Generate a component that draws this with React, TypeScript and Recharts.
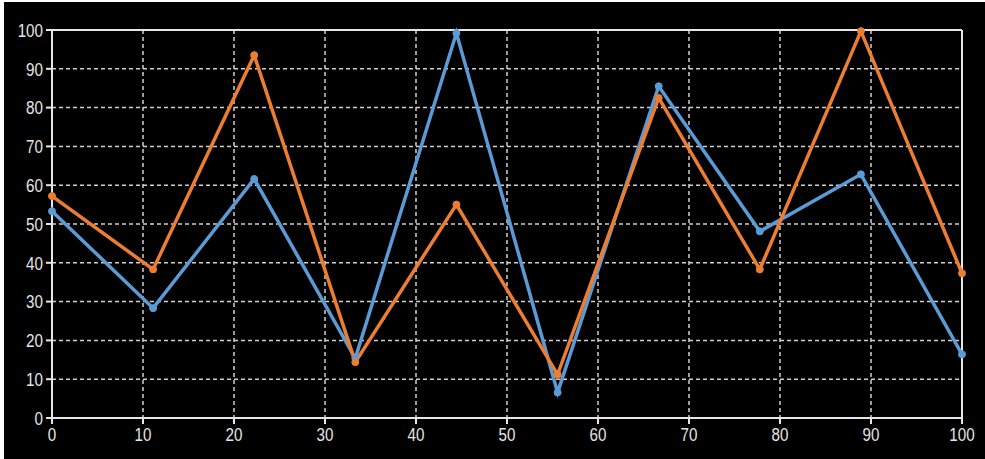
import { LineChart, Line, XAxis, YAxis, CartesianGrid, ReferenceLine } from "recharts"

// x positions: ten evenly spaced samples over 0..100
const xValues = [0, 11.11, 22.22, 33.33, 44.44, 55.56, 66.67, 77.78, 88.89, 100]
const blueValues = [53.3, 28.3, 61.6, 15.4, 99.2, 6.6, 85.5, 48.1, 62.8, 16.4]
const orangeValues = [57.2, 38.3, 93.5, 14.4, 55, 11.2, 82.5, 38.3, 99.7, 37.3]
const tickValues = [0, 10, 20, 30, 40, 50, 60, 70, 80, 90, 100]

const data = xValues.map((x, i) => ({ x, blue: blueValues[i], orange: orangeValues[i] }))

const axisColor = "#e6e6e6"

// narrow-looking labels: Liberation Sans squeezed horizontally
const NarrowTick = (props: any) => {
  const { x, y, payload, textAnchor, verticalAnchor } = props
  const dy = verticalAnchor === "start" ? "0.85em" : "0.36em"
  return (
    <g transform={`translate(${x},${y})`}>
      <text
        transform="scale(0.8,1)"
        textAnchor={textAnchor}
        dy={dy}
        fill="#e6e6e6"
        fontSize={19}
        fontFamily="'Liberation Sans', Arial, sans-serif"
      >
        {payload.value}
      </text>
    </g>
  )
}

export default function App() {
  return (
    <div style={{ position: "absolute", left: 0, top: 0, width: 985, height: 459, background: "#fff" }}>
      <div style={{ position: "absolute", left: 4, top: 2, width: 981, height: 457, background: "#000" }}>
        <LineChart width={981} height={457} data={data} margin={{ top: 28, right: 23, left: 0, bottom: 0 }}>
          <CartesianGrid stroke="#d0d0d0" strokeDasharray="4 3" strokeWidth={1.5} />
          <XAxis
            dataKey="x"
            type="number"
            domain={[0, 100]}
            ticks={tickValues}
            height={41}
            stroke={axisColor}
            strokeWidth={2}
            tickSize={6}
            tickMargin={1}
            tick={<NarrowTick />}
            interval={0}
          />
          <YAxis
            type="number"
            domain={[0, 100]}
            ticks={tickValues}
            width={48}
            stroke={axisColor}
            strokeWidth={2}
            tickSize={6}
            tickMargin={3}
            tick={<NarrowTick />}
            interval={0}
          />
          <ReferenceLine y={100} stroke={axisColor} strokeWidth={2} />
          <ReferenceLine x={100} stroke={axisColor} strokeWidth={2} />
          <Line
            dataKey="blue"
            stroke="#5b9bd5"
            strokeWidth={3.5}
            dot={{ r: 3.5, fill: "#5b9bd5", stroke: "#5b9bd5", strokeWidth: 1 }}
            isAnimationActive={false}
          />
          <Line
            dataKey="orange"
            stroke="#ed7d31"
            strokeWidth={3.5}
            dot={{ r: 3.5, fill: "#ed7d31", stroke: "#ed7d31", strokeWidth: 1 }}
            isAnimationActive={false}
          />
        </LineChart>
      </div>
    </div>
  )
}
